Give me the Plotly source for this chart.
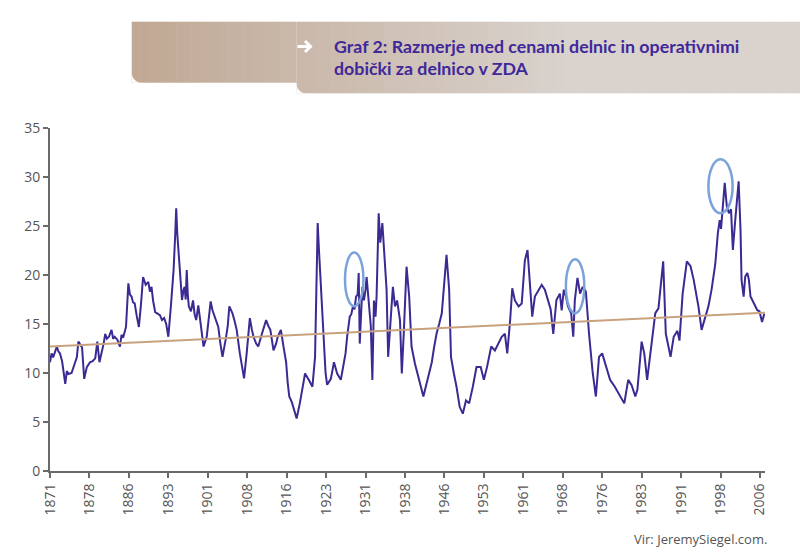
import plotly.graph_objects as go

# ---------------- data ----------------
years = [
    1871.0, 1871.3, 1871.6, 1872.0, 1872.3, 1872.6, 1872.9, 1873.3, 1873.9, 1874.2,
    1874.5, 1875.1, 1875.75, 1876.1, 1876.4, 1876.8, 1877.1, 1877.5, 1878.0, 1878.6,
    1879.1, 1879.6, 1880.0, 1880.4, 1880.8, 1881.2, 1881.5, 1881.8, 1882.2, 1882.7,
    1883.0, 1883.3, 1883.8, 1884.3, 1884.6, 1884.9, 1885.45, 1885.9, 1886.2, 1886.5,
    1886.8, 1887.1, 1887.5, 1887.9, 1888.3, 1888.7, 1889.2, 1889.7, 1890.0, 1890.3,
    1890.6, 1891.0, 1891.3, 1891.9, 1892.3, 1892.7, 1893.1, 1893.5, 1894.0, 1894.5,
    1894.8, 1895.0, 1895.2, 1895.4, 1895.8, 1896.1, 1896.4, 1896.6, 1896.8, 1897.0,
    1897.2, 1897.4, 1897.8, 1898.2, 1898.5, 1898.8, 1899.2, 1899.6, 1900.2, 1900.8,
    1901.2, 1901.55, 1901.9, 1902.4, 1903.0, 1903.4, 1903.8, 1904.4, 1904.8, 1905.1,
    1905.7, 1906.1, 1906.5, 1907.1, 1907.9, 1908.4, 1908.7, 1909.0, 1909.4, 1909.7,
    1910.2, 1910.6, 1911.3, 1911.7, 1912.1, 1912.5, 1912.9, 1913.5, 1914.0, 1914.3,
    1914.9, 1915.4, 1915.9, 1916.2, 1916.5, 1917.0, 1917.3, 1917.9, 1918.5, 1919.0,
    1919.5, 1920.2, 1920.9, 1921.4, 1921.6, 1921.9, 1922.1, 1922.4, 1922.7, 1923.0,
    1923.4, 1923.7, 1924.4, 1925.0, 1925.6, 1926.3, 1926.8, 1927.2, 1927.5, 1928.0,
    1928.3, 1928.6, 1928.9, 1929.2, 1929.5, 1929.7, 1929.9, 1930.1, 1930.4, 1930.7,
    1931.0, 1931.2, 1931.6, 1932.0, 1932.3, 1932.6, 1932.9, 1933.1, 1933.5, 1933.8,
    1934.2, 1934.6, 1935.0, 1935.3, 1935.7, 1936.2, 1936.6, 1937.0, 1937.55, 1937.9,
    1938.3, 1938.8, 1939.3, 1939.75, 1940.4, 1941.0, 1941.5, 1942.0, 1942.6, 1943.1,
    1943.6, 1944.0, 1944.5, 1945.0, 1945.5, 1946.0, 1946.4, 1946.9, 1947.25, 1947.8,
    1948.3, 1948.9, 1949.5, 1950.1, 1950.7, 1951.4, 1952.1, 1952.9, 1953.5, 1954.1,
    1954.9, 1955.6, 1956.2, 1956.9, 1957.5, 1957.95, 1958.5, 1958.9, 1959.4, 1960.1,
    1960.7, 1961.3, 1961.8, 1962.2, 1962.7, 1963.2, 1963.9, 1964.5, 1965.1, 1965.75,
    1966.2, 1966.7, 1967.3, 1967.95, 1968.3, 1968.7, 1969.1, 1969.5, 1970.1, 1970.5,
    1970.8, 1971.3, 1971.8, 1972.3, 1972.9, 1973.5, 1973.9, 1974.2, 1974.8, 1975.4,
    1976.0, 1976.6, 1977.5, 1978.4, 1979.4, 1980.2, 1980.95, 1981.6, 1982.3, 1982.7,
    1983.5, 1984.0, 1984.55, 1985.2, 1986.1, 1986.7, 1987.2, 1987.6, 1988.1, 1988.6,
    1989.0, 1989.6, 1990.3, 1990.7, 1991.3, 1992.1, 1992.8, 1993.4, 1994.3, 1994.9,
    1995.5, 1996.2, 1996.8, 1997.5, 1998.0, 1998.35, 1998.6, 1999.0, 1999.3, 1999.7,
    2000.1, 2000.5, 2000.85, 2001.3, 2001.6, 2001.95, 2002.3, 2002.5, 2002.9, 2003.2,
    2003.6, 2003.9, 2004.2, 2004.8, 2005.5, 2005.9, 2006.4, 2006.85,
]
pe_ratio = [
    11.1, 12.0, 11.6, 12.3, 12.7, 12.2, 12.0, 11.2, 8.9, 10.2,
    9.9, 10.0, 11.1, 11.6, 13.2, 12.85, 12.6, 9.4, 10.6, 11.1,
    11.2, 11.5, 13.2, 11.1, 12.0, 13.0, 14.0, 13.5, 13.7, 14.4,
    13.5, 13.7, 13.4, 12.7, 13.9, 13.6, 14.7, 19.15, 18.0, 17.8,
    17.2, 17.1, 15.8, 14.7, 17.0, 19.8, 19.0, 19.3, 18.3, 18.8,
    17.4, 16.2, 16.1, 15.9, 15.4, 15.6, 15.0, 13.7, 16.9, 20.5,
    24.0, 26.8, 24.2, 22.9, 20.0, 17.45, 18.5, 18.8, 17.5, 20.5,
    18.0, 16.8, 16.3, 17.4, 16.0, 15.4, 16.9, 15.0, 12.7, 13.7,
    15.5, 17.3, 16.4, 15.7, 14.7, 13.0, 11.65, 13.4, 14.8, 16.8,
    16.1, 15.3, 14.4, 12.0, 9.45, 12.0, 13.8, 15.6, 14.4, 13.7,
    13.0, 12.7, 14.0, 14.8, 15.4, 14.8, 14.4, 12.3, 13.0, 13.7,
    14.4, 12.7, 11.1, 9.0, 7.6, 7.0, 6.4, 5.35, 6.9, 8.5,
    9.95, 9.3, 8.6, 11.65, 16.0, 25.3, 23.0, 20.0, 16.0, 13.0,
    10.0, 8.8, 9.4, 11.1, 9.95, 9.3, 10.95, 12.0, 13.7, 15.75,
    16.0, 16.8, 16.5, 17.8, 18.0, 20.2, 13.0, 15.0, 18.8, 17.4,
    18.5, 19.8, 16.8, 14.8, 9.3, 17.4, 15.75, 17.8, 26.3, 23.3,
    25.3, 21.9, 18.5, 11.65, 14.7, 18.8, 16.8, 17.4, 15.4, 9.95,
    14.4, 20.85, 17.8, 12.7, 10.95, 9.6, 8.5, 7.6, 8.9, 10.0,
    11.1, 12.5, 14.0, 15.0, 16.1, 19.4, 22.05, 18.5, 11.65, 9.95,
    8.6, 6.55, 5.85, 7.2, 6.9, 8.6, 10.6, 10.6, 9.3, 10.6,
    12.7, 12.3, 13.0, 13.7, 14.0, 12.0, 15.4, 18.65, 17.4, 16.8,
    17.1, 21.5, 22.55, 19.5, 15.75, 17.8, 18.5, 19.0, 18.5, 17.45,
    16.5, 14.0, 17.45, 18.1, 16.4, 18.5, 17.8, 16.8, 16.1, 13.7,
    17.45, 19.7, 18.1, 18.8, 18.3, 14.0, 11.65, 10.0, 7.6, 11.65,
    12.0, 11.0, 9.3, 8.6, 7.6, 6.9, 9.3, 8.75, 7.6, 8.3,
    13.2, 12.0, 9.3, 12.0, 16.1, 16.6, 19.5, 21.4, 14.0, 12.7,
    11.65, 13.7, 14.3, 13.3, 18.1, 21.4, 20.9, 19.5, 16.8, 14.4,
    15.4, 16.8, 18.5, 21.1, 24.3, 25.6, 24.7, 27.7, 29.4, 27.0,
    26.3, 26.7, 22.55, 25.6, 27.7, 29.55, 24.7, 19.5, 17.8, 19.85,
    20.2, 19.5, 17.8, 17.1, 16.4, 16.3, 15.2, 16.1,
]
trend_years = [1871.0, 2006.96]
trend_values = [12.7, 16.15]

tick_labels = ["1871", "1878", "1886", "1893", "1901", "1908", "1916", "1923", "1931",
               "1938", "1946", "1953", "1961", "1968", "1976", "1983", "1991", "1998", "2006"]
tick_positions = [1871 + 7.5 * i for i in range(len(tick_labels))]

title_line1 = "Graf 2: Razmerje med cenami delnic in operativnimi"
title_line2 = "dobički za delnico v ZDA"
source_text = "Vir: JeremySiegel.com."

# ---------------- layout geometry ----------------
W, H = 800, 559
ML, MR, MT, MB = 50, 35, 128, 88
PW, PH = W - ML - MR, H - MT - MB


def px(x):
    return (x - ML) / PW


def py(y):
    return (H - MB - y) / PH


LINE_COLOR = "#3a2a92"
TREND_COLOR = "#c8a27e"
AXIS_COLOR = "#6a6a6a"
TEXT_COLOR = "#555555"
ELLIPSE_COLOR = "#7aa3d9"

fig = go.Figure()
fig.add_trace(go.Scatter(x=years, y=pe_ratio, mode="lines",
                         line=dict(color=LINE_COLOR, width=2), hoverinfo="skip",
                         showlegend=False))
fig.add_trace(go.Scatter(x=trend_years, y=trend_values, mode="lines",
                         line=dict(color=TREND_COLOR, width=2), hoverinfo="skip",
                         showlegend=False))

shapes = []
# banner gradient strips
c_left = (192, 168, 148)
c_right = (217, 210, 205)
bx0, bstep, bx_end = 131.7, 296.7, 800
grad_end = 570
n = 90
for i in range(n):
    xa = bx0 + (bx_end - bx0) * i / n
    xb = bx0 + (bx_end - bx0) * (i + 1) / n + 0.6
    t = min(1.0, max(0.0, ((xa + xb) / 2 - bx0) / (grad_end - bx0)))
    col = tuple(int(round(c_left[k] + (c_right[k] - c_left[k]) * t)) for k in range(3))
    bottom = 82.7 if xb <= bstep + 0.7 else 93.3
    if xa < bstep < xb - 0.6:
        shapes.append(dict(type="rect", xref="paper", yref="paper",
                           x0=px(xa), x1=px(bstep), y0=py(82.7), y1=py(21.7),
                           fillcolor="rgb(%d,%d,%d)" % col, line=dict(width=0), layer="below"))
        shapes.append(dict(type="rect", xref="paper", yref="paper",
                           x0=px(bstep), x1=px(xb), y0=py(93.3), y1=py(21.7),
                           fillcolor="rgb(%d,%d,%d)" % col, line=dict(width=0), layer="below"))
        continue
    shapes.append(dict(type="rect", xref="paper", yref="paper",
                       x0=px(xa), x1=px(xb), y0=py(bottom), y1=py(21.7),
                       fillcolor="rgb(%d,%d,%d)" % col, line=dict(width=0), layer="below"))


def corner_mask(x0, y1, r):
    k = 0.552 * r
    p = "M %f,%f L %f,%f L %f,%f C %f,%f %f,%f %f,%f Z" % (
        px(x0), py(y1 - r), px(x0), py(y1), px(x0 + r), py(y1),
        px(x0 + r - k), py(y1), px(x0), py(y1 - r + k), px(x0), py(y1 - r))
    return dict(type="path", xref="paper", yref="paper", path=p,
                fillcolor="white", line=dict(width=0), layer="below")


shapes.append(corner_mask(131.7, 82.7, 10))
shapes.append(corner_mask(296.7, 93.3, 9))

# white arrow in the banner
shapes.append(dict(type="line", xref="paper", yref="paper",
                   x0=px(297.5), x1=px(310), y0=py(46.5), y1=py(46.5),
                   line=dict(color="white", width=3)))
shapes.append(dict(type="path", xref="paper", yref="paper",
                   path="M %f,%f L %f,%f L %f,%f" % (px(305), py(41), px(310.5), py(46.5),
                                                     px(305), py(52)),
                   line=dict(color="white", width=3)))

# ellipses highlighting peaks
for (x0, x1, y0, y1) in [(1927.1, 1930.6, 16.8, 22.3),
                         (1969.1, 1972.6, 16.1, 21.6),
                         (1996.2, 2000.8, 26.3, 31.8)]:
    shapes.append(dict(type="circle", xref="x", yref="y", x0=x0, x1=x1, y0=y0, y1=y1,
                       line=dict(color=ELLIPSE_COLOR, width=2.5), fillcolor="rgba(0,0,0,0)"))

annotations = [
    dict(text="<b>%s</b>" % title_line1, xref="paper", yref="paper", x=px(332), y=py(46.5),
         showarrow=False, xanchor="left", yanchor="middle",
         font=dict(family="Lato", size=17.8, color="#40289a")),
    dict(text="<b>%s</b>" % title_line2, xref="paper", yref="paper", x=px(332), y=py(68),
         showarrow=False, xanchor="left", yanchor="middle",
         font=dict(family="Lato", size=17.8, color="#40289a")),
    dict(text=source_text, xref="paper", yref="paper", x=px(769), y=py(539),
         showarrow=False, xanchor="right", yanchor="middle",
         font=dict(family="Open Sans", size=13, color=TEXT_COLOR)),
]

fig.update_layout(
    width=W, height=H, autosize=False,
    margin=dict(l=ML, r=MR, t=MT, b=MB, pad=0),
    paper_bgcolor="white", plot_bgcolor="white",
    shapes=shapes, annotations=annotations,
    font=dict(family="Open Sans", size=14, color=TEXT_COLOR),
    xaxis=dict(range=[1871, 2006.96], tickmode="array", tickvals=tick_positions,
               ticktext=tick_labels, tickangle=-90, showgrid=False, zeroline=False,
               showline=True, linecolor=AXIS_COLOR, linewidth=2, ticks="outside",
               ticklen=5, tickwidth=2, tickcolor=AXIS_COLOR,
               tickfont=dict(family="Open Sans", size=14, color=TEXT_COLOR)),
    yaxis=dict(range=[0, 35], tickvals=[0, 5, 10, 15, 20, 25, 30, 35], showgrid=False,
               zeroline=False, showline=True, linecolor=AXIS_COLOR, linewidth=2,
               ticks="outside", ticklen=5, tickwidth=2, tickcolor=AXIS_COLOR,
               tickfont=dict(family="Open Sans", size=14, color=TEXT_COLOR)),
)

fig.write_html("out.html")
